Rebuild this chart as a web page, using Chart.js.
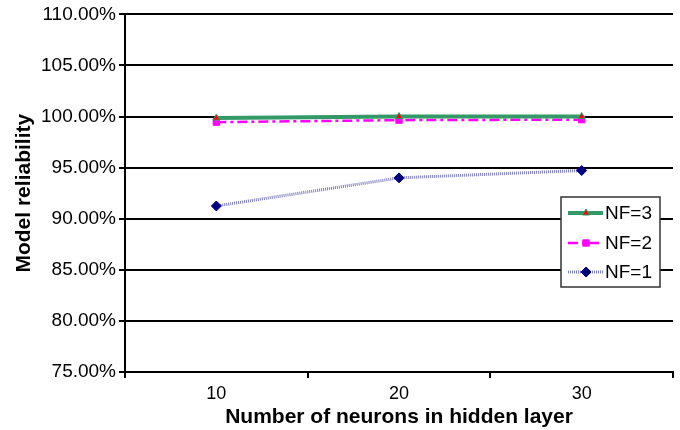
<!DOCTYPE html>
<html>
<head>
<meta charset="utf-8">
<script src="https://cdn.jsdelivr.net/npm/chart.js@4"></script>
<style>
  html, body { margin: 0; padding: 0; background: #fff; }
  #wrap { width: 680px; height: 430px; }
</style>
</head>
<body>
<div id="wrap"><canvas id="reliabilityChart"></canvas></div>
<script>
const neurons = ['10', '20', '30'];
const nf3 = [99.85, 100.0, 100.0];
const nf2 = [99.45, 99.65, 99.7];
const nf1 = [91.25, 94.0, 94.72];
const yTicks = [75, 80, 85, 90, 95, 100, 105, 110];

const FONT = "'Liberation Sans', Arial, sans-serif";

// legend box drawn inside the plot, like the original
const boxLegend = {
    id: 'boxLegend',
    afterDraw(chart) {
        const ctx = chart.ctx;
        const x = 561, y = 197, w = 99, h = 90;
        ctx.save();
        ctx.fillStyle = '#fff';
        ctx.fillRect(x, y, w, h);
        ctx.strokeStyle = '#333';
        ctx.lineWidth = 1.5;
        ctx.strokeRect(x, y, w, h);
        const rows = [213, 243, 272];
        chart.data.datasets.forEach((ds, i) => {
            const ry = rows[i];
            ctx.strokeStyle = ds.borderColor;
            ctx.lineWidth = ds.borderWidth;
            ctx.setLineDash(ds.borderDash || []);
            ctx.beginPath();
            ctx.moveTo(568, ry);
            ctx.lineTo(603, ry);
            ctx.stroke();
            ctx.setLineDash([]);
            ctx.fillStyle = ds.pointBackgroundColor;
            ctx.strokeStyle = ds.pointBorderColor;
            ctx.lineWidth = 1;
            Chart.helpers.drawPoint(ctx, {
                pointStyle: ds.pointStyle,
                radius: ds.pointRadius,
                borderWidth: 1,
                rotation: 0
            }, 586, ry);
            ctx.fillStyle = '#000';
            ctx.font = '19px ' + FONT;
            ctx.textBaseline = 'middle';
            ctx.fillText(ds.label, 605, ry + 1);
        });
        ctx.restore();
    }
};

new Chart(document.getElementById('reliabilityChart'), {
    type: 'line',
    data: {
        labels: neurons,
        datasets: [{
            label: 'NF=3',
            data: nf3,
            borderColor: '#339966',
            borderWidth: 4,
            pointStyle: 'triangle',
            pointRadius: 4,
            pointBackgroundColor: '#ff0000',
            pointBorderColor: '#339966',
            pointBorderWidth: 1,
            tension: 0
        }, {
            label: 'NF=2',
            data: nf2,
            borderColor: '#ff00ff',
            borderWidth: 2.5,
            borderDash: [10, 4, 3, 4],
            pointStyle: 'rect',
            pointRadius: 4.5,
            pointBackgroundColor: '#ff00ff',
            pointBorderColor: '#ff00ff',
            pointBorderWidth: 1,
            tension: 0
        }, {
            label: 'NF=1',
            data: nf1,
            borderColor: 'rgba(70,70,160,0.7)',
            borderWidth: 3,
            borderDash: [1, 1],
            pointStyle: 'rectRot',
            pointRadius: 5,
            pointBackgroundColor: '#000080',
            pointBorderColor: '#000080',
            pointBorderWidth: 1,
            tension: 0
        }]
    },
    options: {
        responsive: true,
        maintainAspectRatio: false,
        animation: false,
        layout: { padding: { top: 14, right: 7, left: 0, bottom: 0 } },
        plugins: {
            legend: { display: false },
            tooltip: { enabled: false }
        },
        scales: {
            x: {
                offset: true,
                grid: {
                    offset: true,
                    drawOnChartArea: false,
                    drawTicks: true,
                    tickLength: 6,
                    color: '#000',
                    lineWidth: 2
                },
                border: { color: '#000', width: 2 },
                ticks: {
                    color: '#000',
                    font: { family: FONT, size: 18 },
                    padding: 5
                },
                title: {
                    display: true,
                    text: 'Number of neurons in hidden layer',
                    color: '#000',
                    font: { family: FONT, size: 21, weight: 'bold' },
                    padding: { top: 0, bottom: 0 }
                },
                afterFit(scale) { scale.height = 58; }
            },
            y: {
                min: 75,
                max: 110,
                afterBuildTicks(scale) {
                    scale.ticks = yTicks.map(v => ({ value: v }));
                },
                grid: {
                    color: '#000',
                    lineWidth: 2,
                    tickLength: 6
                },
                border: { color: '#000', width: 2 },
                ticks: {
                    color: '#000',
                    font: { family: FONT, size: 19 },
                    padding: 3,
                    callback: v => v.toFixed(2) + '%'
                },
                title: {
                    display: true,
                    text: 'Model reliability',
                    color: '#000',
                    font: { family: FONT, size: 21, weight: 'bold' },
                    padding: { top: 12, bottom: 4 }
                },
                afterFit(scale) { scale.width = 125; }
            }
        }
    },
    plugins: [boxLegend]
});
</script>
</body>
</html>
